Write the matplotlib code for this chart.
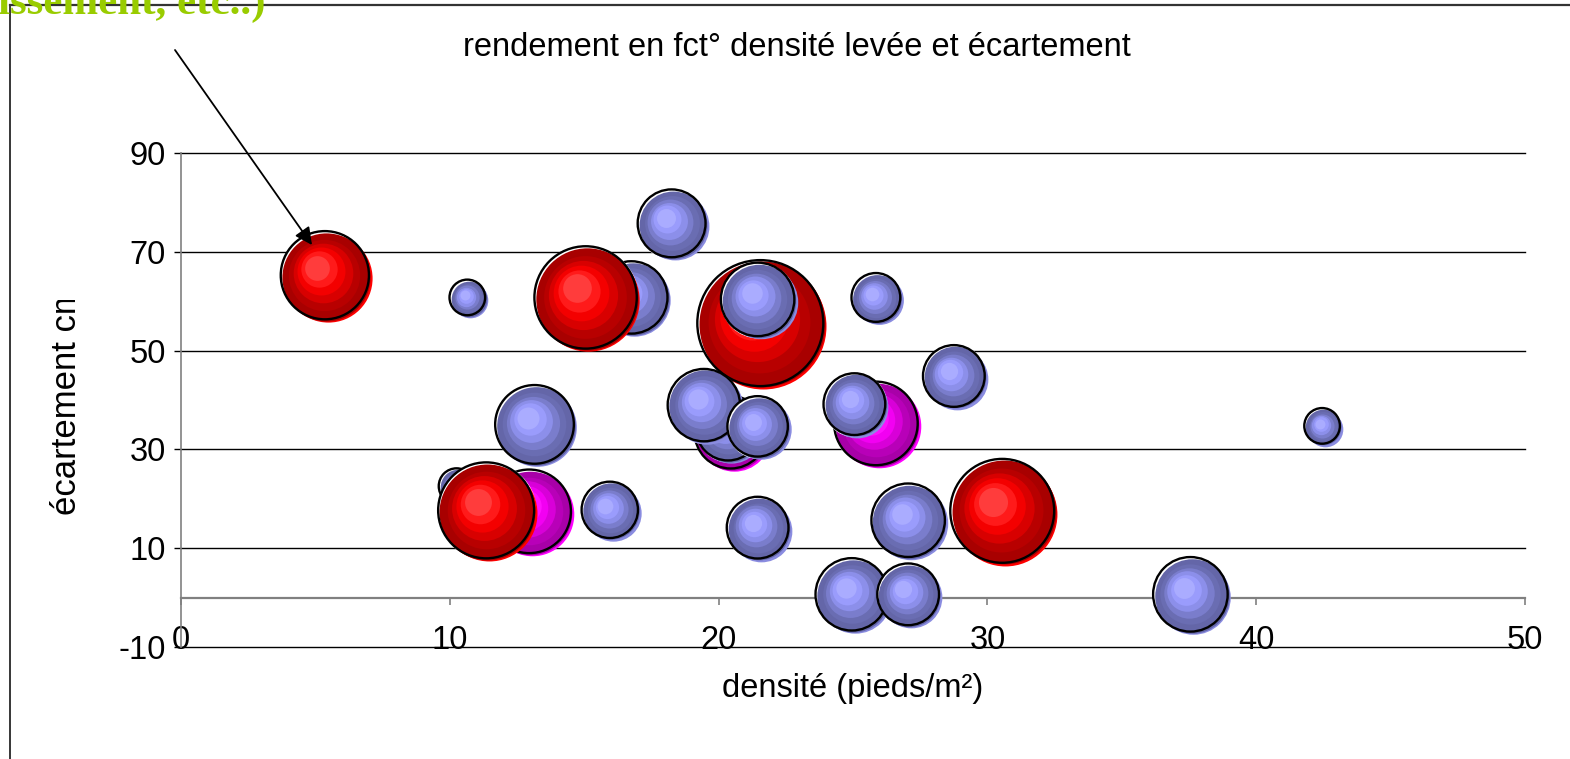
import numpy as np
import matplotlib
matplotlib.use("Agg")
import matplotlib.pyplot as plt
from matplotlib.transforms import ScaledTranslation, Bbox
from matplotlib.lines import Line2D

# values, listed in drawing order (later = on top)
densite = [5.4, 10.7, 16.8, 15.1, 18.3, 21.6, 21.5, 20.5, 20.4, 19.5, 21.5, 13.2,
           10.3, 13.0, 11.4, 16.0, 21.5, 25.9, 25.1, 25.9, 28.8, 27.1, 30.6,
           25.0, 27.1, 37.6, 42.5]
ecartement = [65.0, 60.5, 60.5, 60.5, 75.5, 55.3, 60.1, 33.2, 34.0, 38.7, 34.4, 34.8,
              22.3, 17.2, 17.4, 17.5, 13.9, 35.0, 38.9, 60.5, 44.6, 15.4, 17.3,
              0.4, 0.4, 0.4, 34.5]
rendement = [49, 8, 33, 66, 29, 100, 34, 33, 26, 33, 23, 39,
             8, 44, 58, 20, 24, 44, 24, 15, 24, 34, 68,
             33, 24, 35, 8]
groupe = ["rouge", "bleu", "bleu", "rouge", "bleu", "rouge", "bleu", "magenta", "bleu",
          "bleu", "bleu", "bleu", "bleu", "magenta", "rouge", "bleu", "bleu", "magenta",
          "bleu", "bleu", "bleu", "bleu", "rouge", "bleu", "bleu", "bleu", "bleu"]

x_ticks = [0, 10, 20, 30, 40, 50]
y_ticks = [-10, 10, 30, 50, 70, 90]

palettes = {
    "bleu": ["#6466a8", "#6a6db2", "#7a7dcc", "#8c8fea", "#9a9cfc", "#aaacff"],
    "rouge": ["#a80000", "#b80000", "#d80000", "#f40000", "#ff1a1a", "#ff3c3c"],
    "magenta": ["#a800a8", "#b800b8", "#d800d8", "#f200f2", "#ff10ff", "#ff3cff"],
}
rims = {"bleu": "#8a8ce0", "rouge": "#ff0000", "magenta": "#ff00ff"}

W, H, DPI = 1570, 759, 100
plt.rcParams["font.family"] = ["Liberation Sans", "DejaVu Sans"]
plt.rcParams["axes.unicode_minus"] = False

fig = plt.figure(figsize=(W / DPI, H / DPI), dpi=DPI)
ax = fig.add_axes([181 / W, 1 - 647 / H, (1525 - 181) / W, (647 - 153) / H])
ax.set_xlim(0, 50)
ax.set_ylim(-10, 90)
ax.set_axisbelow(True)

for s in ["top", "right"]:
    ax.spines[s].set_visible(False)
ax.spines["bottom"].set_position(("data", 0))
ax.spines["bottom"].set_color("#808080")
ax.spines["bottom"].set_linewidth(1.6)
ax.spines["left"].set_color("#808080")
ax.spines["left"].set_linewidth(1.2)

ax.set_xticks(x_ticks)
ax.set_yticks(y_ticks)
ax.tick_params(axis="x", direction="out", length=5, width=1.2, color="#808080",
               labelsize=23.5, pad=26)
ax.tick_params(axis="y", direction="out", length=5, width=1.0, color="black",
               labelsize=23.5, pad=6)
for lab in ax.get_xticklabels():
    lab.set_va("center")
ax.yaxis.grid(True, color="black", lw=1.0)
for gl in ax.get_ygridlines():
    gl.set_clip_on(False)


def dot(x, y, rad, dx=0.0, dy=0.0, **kw):
    tr = ax.transData + ScaledTranslation(dx / DPI, dy / DPI, fig.dpi_scale_trans)
    ax.scatter([x], [y], s=(2 * rad * 72 / DPI) ** 2, transform=tr, zorder=3,
               clip_on=False, **kw)


for x, y, v, g in zip(densite, ecartement, rendement, groupe):
    r = 6.3 * np.sqrt(v)
    pal = palettes[g]
    dot(x, y, r + 1.2, -0.8, 0.8, color="white", linewidths=0)
    dot(x, y, r, 1.6, -1.6, color=rims[g], linewidths=0)
    n = len(pal)
    for k, c in enumerate(pal):
        f = k / (n - 1)
        dot(x, y, r * (0.94 - 0.66 * f) if k else r, -0.2 * r * f, 0.2 * r * f,
            color=c, linewidths=0)
    dot(x, y, r, -1.3, 1.3, facecolors="none", edgecolors="black", linewidths=1.7)

ax.set_xlabel("densité (pieds/m²)", fontsize=23.5)
ax.xaxis.set_label_coords(0.5, (647 - 688) / 494)
ax.xaxis.label.set_va("center")

# y label: the reference shows its end cut off, so clip it the same way
ylab = fig.text(67 / W, 1 - 400 / H, "écartement cm", rotation=90, fontsize=25,
                ha="center", va="center")
ylab.set_clip_box(Bbox.from_extents(0, 0, W, H - 300))
ylab.set_clip_on(True)

fig.text(797 / W, 1 - 47 / H, "rendement en fct° densité levée et écartement",
         ha="center", va="center", fontsize=23.5)

# chart frame (left and top edges)
fig.add_artist(Line2D([10 / W, 10 / W], [0, 1 - 5 / H], transform=fig.transFigure,
                      color="black", lw=1.1))
fig.add_artist(Line2D([10 / W, 1], [1 - 5 / H, 1 - 5 / H], transform=fig.transFigure,
                      color="#333333", lw=1.6))

fig.text(-2 / W, 1 - 14 / H, "issement, etc..)", family="Liberation Serif",
         fontweight="bold", fontsize=31, color="#99cc00", va="baseline", ha="left")

ax.annotate("", xy=(312, H - 245), xytext=(175, H - 50), xycoords="figure pixels",
            textcoords="figure pixels", annotation_clip=False,
            arrowprops=dict(arrowstyle="-|>", color="black", lw=1.3,
                            mutation_scale=26, shrinkA=0, shrinkB=0), zorder=10)

fig.savefig("out.png", dpi=DPI)
